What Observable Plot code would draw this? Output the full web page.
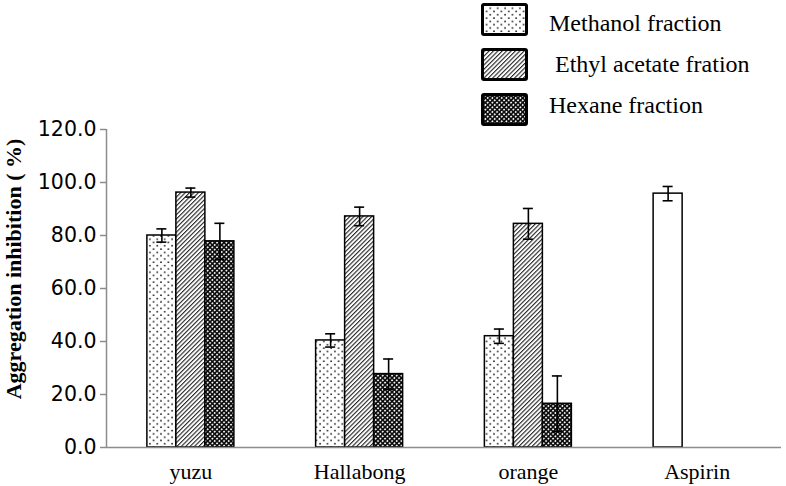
<!DOCTYPE html>
<html>
<head>
<meta charset="utf-8">
<script src="https://cdn.jsdelivr.net/npm/d3@7"></script>
<script src="https://cdn.jsdelivr.net/npm/@observablehq/plot@0.6"></script>
<style>
  html, body { margin: 0; padding: 0; background: #fff; }
  #wrap { position: relative; width: 786px; height: 486px; }
  #overlay { position: absolute; left: 0; top: 0; pointer-events: none; }
</style>
</head>
<body>
<svg width="0" height="0" style="position:absolute">
  <defs>
    <pattern id="pDots" width="7.4" height="6.6" patternUnits="userSpaceOnUse">
      <rect width="7.4" height="6.6" fill="#fff"/>
      <circle cx="1.9" cy="1.6" r="0.8" fill="#000"/>
      <circle cx="5.6" cy="4.9" r="0.8" fill="#000"/>
    </pattern>
    <pattern id="pHatch" width="3.1" height="10" patternUnits="userSpaceOnUse" patternTransform="rotate(45)">
      <rect width="3.1" height="10" fill="#fff"/>
      <line x1="0.6" y1="0" x2="0.6" y2="10" stroke="#000" stroke-width="0.95"/>
    </pattern>
    <pattern id="pHex" width="3.3" height="3.3" patternUnits="userSpaceOnUse" patternTransform="rotate(45)">
      <rect width="3.3" height="3.3" fill="#0a0a0a"/>
      <circle cx="1.65" cy="1.65" r="0.95" fill="#fff"/>
    </pattern>
  </defs>
</svg>
<div id="wrap">
  <div id="chart"></div>
  <svg id="overlay" width="786" height="486">
    <g font-family="'Liberation Serif', 'Times New Roman', serif" font-size="24" fill="#000">
      <rect x="482.5" y="4.5" width="44" height="30" fill="url(#pDots)" stroke="#000" stroke-width="3" rx="1.5"/>
      <rect x="482.5" y="49.5" width="44" height="30" fill="url(#pHatch)" stroke="#000" stroke-width="3" rx="1.5"/>
      <rect x="482.5" y="94.5" width="44" height="30" fill="url(#pHex)" stroke="#000" stroke-width="3" rx="1.5"/>
      <text id="lg0" x="549" y="31" style="white-space:pre"></text>
      <text id="lg1" x="549" y="72" style="white-space:pre"></text>
      <text id="lg2" x="549" y="113" style="white-space:pre"></text>
    </g>
    <text id="ylab" x="21" y="269" text-anchor="middle" transform="rotate(-90,21,269)"
      font-family="'Liberation Serif', 'Times New Roman', serif" font-weight="bold" font-size="22" fill="#000"></text>
  </svg>
</div>
<script>
// ---- data ----
const categories = ["yuzu", "Hallabong", "orange", "Aspirin"];
const seriesNames = ["Methanol fraction", " Ethyl acetate fration", "Hexane fraction"];
const methanol    = [80.0, 40.4, 42.0];
const methanolErr = [2.5, 2.5, 2.7];
const ethyl       = [96.2, 87.2, 84.4];
const ethylErr    = [1.7, 3.5, 5.8];
const hexane      = [77.8, 27.7, 16.5];
const hexaneErr   = [6.8, 5.7, 10.5];
const aspirin     = [95.8];
const aspirinErr  = [2.7];
const yTicks = [0, 20, 40, 60, 80, 100, 120];
const yLabel = "Aggregation inhibition ( %)";

// ---- build table ----
const patternFill = ["url(#pDots)", "url(#pHatch)", "url(#pHex)"];
const seriesVals = [methanol, ethyl, hexane];
const seriesErrs = [methanolErr, ethylErr, hexaneErr];
const rows = [];
seriesVals.forEach((vals, j) => {
  vals.forEach((v, i) => rows.push({cat: i, slot: j, value: v, err: seriesErrs[j][i], fill: patternFill[j]}));
});
aspirin.forEach((v, k) => rows.push({cat: 3, slot: 0, value: v, err: aspirinErr[k], fill: "#fff"}));

const bw = 29 / 168.75;       // bar width as fraction of category step
const cap = 5 / 168.75;       // half cap width
const left = d => d.cat + 0.5 + (d.slot - 1.5) * bw;
const mid = d => left(d) + bw / 2;

const axisGray = "#8c8c8c";

const chart = Plot.plot({
  width: 786,
  height: 486,
  marginTop: 129,
  marginBottom: 39,
  marginLeft: 106,
  marginRight: 5,
  x: {domain: [0, 4], axis: null},
  y: {domain: [0, 120], axis: null},
  color: {type: "identity"},
  marks: [
    Plot.rectY(rows, {x1: left, x2: d => left(d) + bw, y1: 0, y2: "value", fill: "fill", stroke: "#000", strokeWidth: 1.5}),
    Plot.ruleX(rows, {x: mid, y1: d => d.value - d.err, y2: d => d.value + d.err, stroke: "#000", strokeWidth: 1.6}),
    Plot.ruleY(rows, {y: d => d.value + d.err, x1: d => mid(d) - cap, x2: d => mid(d) + cap, stroke: "#000", strokeWidth: 1.6}),
    Plot.ruleY(rows, {y: d => d.value - d.err, x1: d => mid(d) - cap, x2: d => mid(d) + cap, stroke: "#000", strokeWidth: 1.6}),
    Plot.ruleX([0], {stroke: axisGray, strokeWidth: 1.5}),
    Plot.ruleY([0], {stroke: axisGray, strokeWidth: 1.5}),
    Plot.axisY({
      ticks: yTicks, tickFormat: d => d.toFixed(1), tickSize: 6, tickPadding: 4,
      stroke: axisGray, strokeWidth: 1.5, fill: "#000", fontSize: 20.5,
      fontFamily: "DejaVu Sans, sans-serif", label: null
    }),
    Plot.axisX({
      ticks: categories.map((c, i) => i + 0.5), tickFormat: d => categories[Math.floor(d)],
      tickSize: 0, tickPadding: 16, fill: "#000", fontSize: 22,
      fontFamily: "'Liberation Serif', 'Times New Roman', serif", label: null
    })
  ]
});
document.getElementById("chart").appendChild(chart);

seriesNames.forEach((s, i) => { document.getElementById("lg" + i).textContent = s; });
document.getElementById("ylab").textContent = yLabel;
</script>
</body>
</html>
